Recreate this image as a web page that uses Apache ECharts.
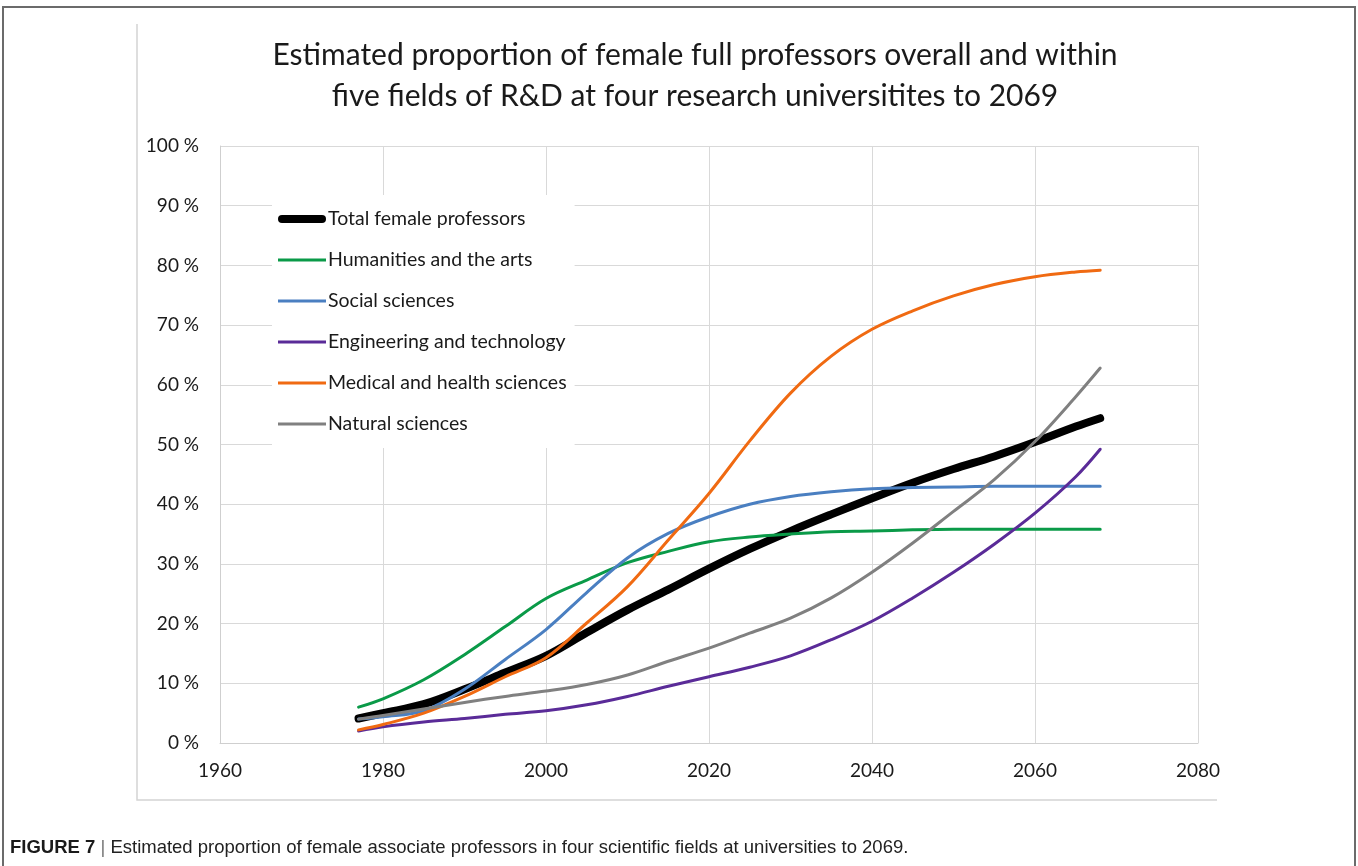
<!DOCTYPE html>
<html>
<head>
<meta charset="utf-8">
<title>Estimated proportion of female full professors</title>
<script src="https://cdn.jsdelivr.net/npm/echarts@6/dist/echarts.min.js"></script>
<style>
  html, body { margin: 0; padding: 0; background: #fff; }
  #chart { width: 1358px; height: 866px; }
</style>
</head>
<body>
<div id="chart"></div>
<script>
// Projection years (x values) shared by every series
const years = [1977, 1980, 1985, 1990, 1995, 2000, 2005, 2010, 2015, 2020,
               2025, 2030, 2035, 2040, 2045, 2050, 2055, 2060, 2065, 2068];

// Share of women among full professors, in percent
const totalFemale   = [4.1, 5.0, 6.5, 9.0, 11.8, 14.6, 18.5, 22.3, 25.7, 29.2,
                       32.5, 35.5, 38.3, 41.0, 43.6, 45.9, 48.0, 50.4, 53.0, 54.4];
const humanities    = [6.0, 7.4, 10.6, 14.8, 19.5, 24.2, 27.3, 30.2, 32.1, 33.7,
                       34.5, 35.0, 35.4, 35.5, 35.7, 35.8, 35.8, 35.8, 35.8, 35.8];
const socialSci     = [4.0, 4.4, 5.4, 9.0, 14.0, 19.0, 25.2, 31.0, 35.1, 37.9,
                       40.0, 41.3, 42.1, 42.6, 42.8, 42.9, 43.0, 43.0, 43.0, 43.0];
const engineering   = [2.0, 2.7, 3.5, 4.1, 4.8, 5.4, 6.4, 7.8, 9.5, 11.1,
                       12.7, 14.6, 17.3, 20.4, 24.3, 28.6, 33.3, 38.5, 44.6, 49.2];
const medical       = [2.2, 3.1, 5.0, 7.8, 11.1, 14.3, 20.1, 26.2, 34.0, 41.8,
                       50.6, 58.6, 64.8, 69.3, 72.4, 74.9, 76.8, 78.1, 78.9, 79.2];
const naturalSci    = [4.0, 4.6, 5.7, 6.8, 7.8, 8.7, 9.8, 11.4, 13.7, 15.9,
                       18.4, 20.9, 24.3, 28.6, 33.5, 38.8, 44.1, 50.5, 58.0, 62.8];

const seriesNames = ['Total female professors', 'Humanities and the arts', 'Social sciences',
                     'Engineering and technology', 'Medical and health sciences', 'Natural sciences'];
const seriesValues = [totalFemale, humanities, socialSci, engineering, medical, naturalSci];
const seriesColors = ['#000000', '#0a9a48', '#4a7fc1', '#5a2b98', '#f06a12', '#808080'];
const seriesWidths = [8, 3, 3, 3, 3, 3];

const yTicks = { min: 0, max: 100, step: 10 };
const xTicks = { min: 1960, max: 2080, step: 20 };

const titleLines = ['Estimated proportion of female full professors overall and within',
                    'five fields of R&D at four research universitites to 2069'];
const captionLabel = 'FIGURE 7';
const captionText = 'Estimated proportion of female associate professors in four scientific fields at universities to 2069.';

const FONT = 'Lato, "Open Sans", sans-serif';
const CAPTION_FONT = '"Liberation Sans", Arial, sans-serif';

// Legend swatches: a thick rounded bar for the total, thin bars for the fields
const THICK_ICON = 'path://M4,0 L44,0 A4,4 0 0 1 44,8 L4,8 A4,4 0 0 1 4,0 Z';
const THIN_ICON = 'path://M0,0 L48,0 L48,3 L0,3 Z';

const chart = echarts.init(document.getElementById('chart'), null, { renderer: 'canvas' });

const series = seriesNames.map((name, i) => ({
  name: name,
  type: 'line',
  data: years.map((y, j) => [y, seriesValues[i][j]]),
  symbol: 'none',
  smooth: 0.35,
  lineStyle: { color: seriesColors[i], width: seriesWidths[i], cap: 'round', join: 'round' },
  itemStyle: { color: seriesColors[i] },
  emphasis: { disabled: true },
  z: 2 + i
}));

chart.setOption({
  animation: false,
  backgroundColor: '#ffffff',
  title: {
    text: titleLines.join('\n'),
    left: 690,
    textAlign: 'center',
    top: 30,
    textStyle: { fontFamily: FONT, fontSize: 30, fontWeight: 'normal', color: '#1a1a1a', lineHeight: 41 }
  },
  grid: { left: 220, right: 160, top: 146, bottom: 123, containLabel: false },
  xAxis: {
    type: 'value',
    min: xTicks.min, max: xTicks.max, interval: xTicks.step,
    axisLine: { show: true, lineStyle: { color: '#cfcfcf', width: 1 } },
    axisTick: { show: false },
    splitLine: { show: true, lineStyle: { color: '#d9d9d9', width: 1 } },
    axisLabel: { fontFamily: FONT, fontSize: 19, color: '#1a1a1a', margin: 18,
                 formatter: v => String(v) }
  },
  yAxis: {
    type: 'value',
    min: yTicks.min, max: yTicks.max, interval: yTicks.step,
    axisLine: { show: true, lineStyle: { color: '#cfcfcf', width: 1 } },
    axisTick: { show: false },
    splitLine: { show: true, lineStyle: { color: '#d9d9d9', width: 1 } },
    axisLabel: { fontFamily: FONT, fontSize: 19, color: '#1a1a1a', margin: 21,
                 formatter: v => v + ' %' }
  },
  legend: {
    orient: 'vertical',
    left: 272,
    top: 195,
    padding: [14, 8, 14, 6],
    backgroundColor: '#ffffff',
    itemWidth: 48,
    itemHeight: 14,
    itemGap: 21,
    selectedMode: false,
    symbolKeepAspect: true,
    textStyle: { fontFamily: FONT, fontSize: 19.5, color: '#1a1a1a', padding: [0, 0, 0, -3] },
    data: seriesNames.map((name, i) => ({
      name: name,
      icon: i === 0 ? THICK_ICON : THIN_ICON,
      itemStyle: { color: seriesColors[i], borderWidth: 0 }
    }))
  },
  graphic: [
    // outer figure frame
    { type: 'rect', shape: { x: 3, y: 7, width: 1352, height: 880 }, silent: true,
      style: { fill: 'none', stroke: '#6b6b6b', lineWidth: 2 }, z: 0 },
    // chart area border (left and bottom edges)
    { type: 'polyline', shape: { points: [[137, 24], [137, 800], [1217, 800]] }, silent: true,
      style: { fill: 'none', stroke: '#d4d4d4', lineWidth: 1.5 }, z: 0 },
    // caption below the chart
    { type: 'text', left: 10, top: 838, silent: true,
      style: {
        text: '{b|' + captionLabel + '} {s||} ' + captionText,
        fontFamily: CAPTION_FONT,
        fontSize: 18.5, fill: '#222222',
        rich: {
          b: { fontWeight: 'bold', fontSize: 18.5, fill: '#1a1a1a', fontFamily: CAPTION_FONT },
          s: { fontSize: 18.5, fill: '#777777', fontFamily: CAPTION_FONT }
        }
      }
    }
  ],
  series: series
});
</script>
</body>
</html>
